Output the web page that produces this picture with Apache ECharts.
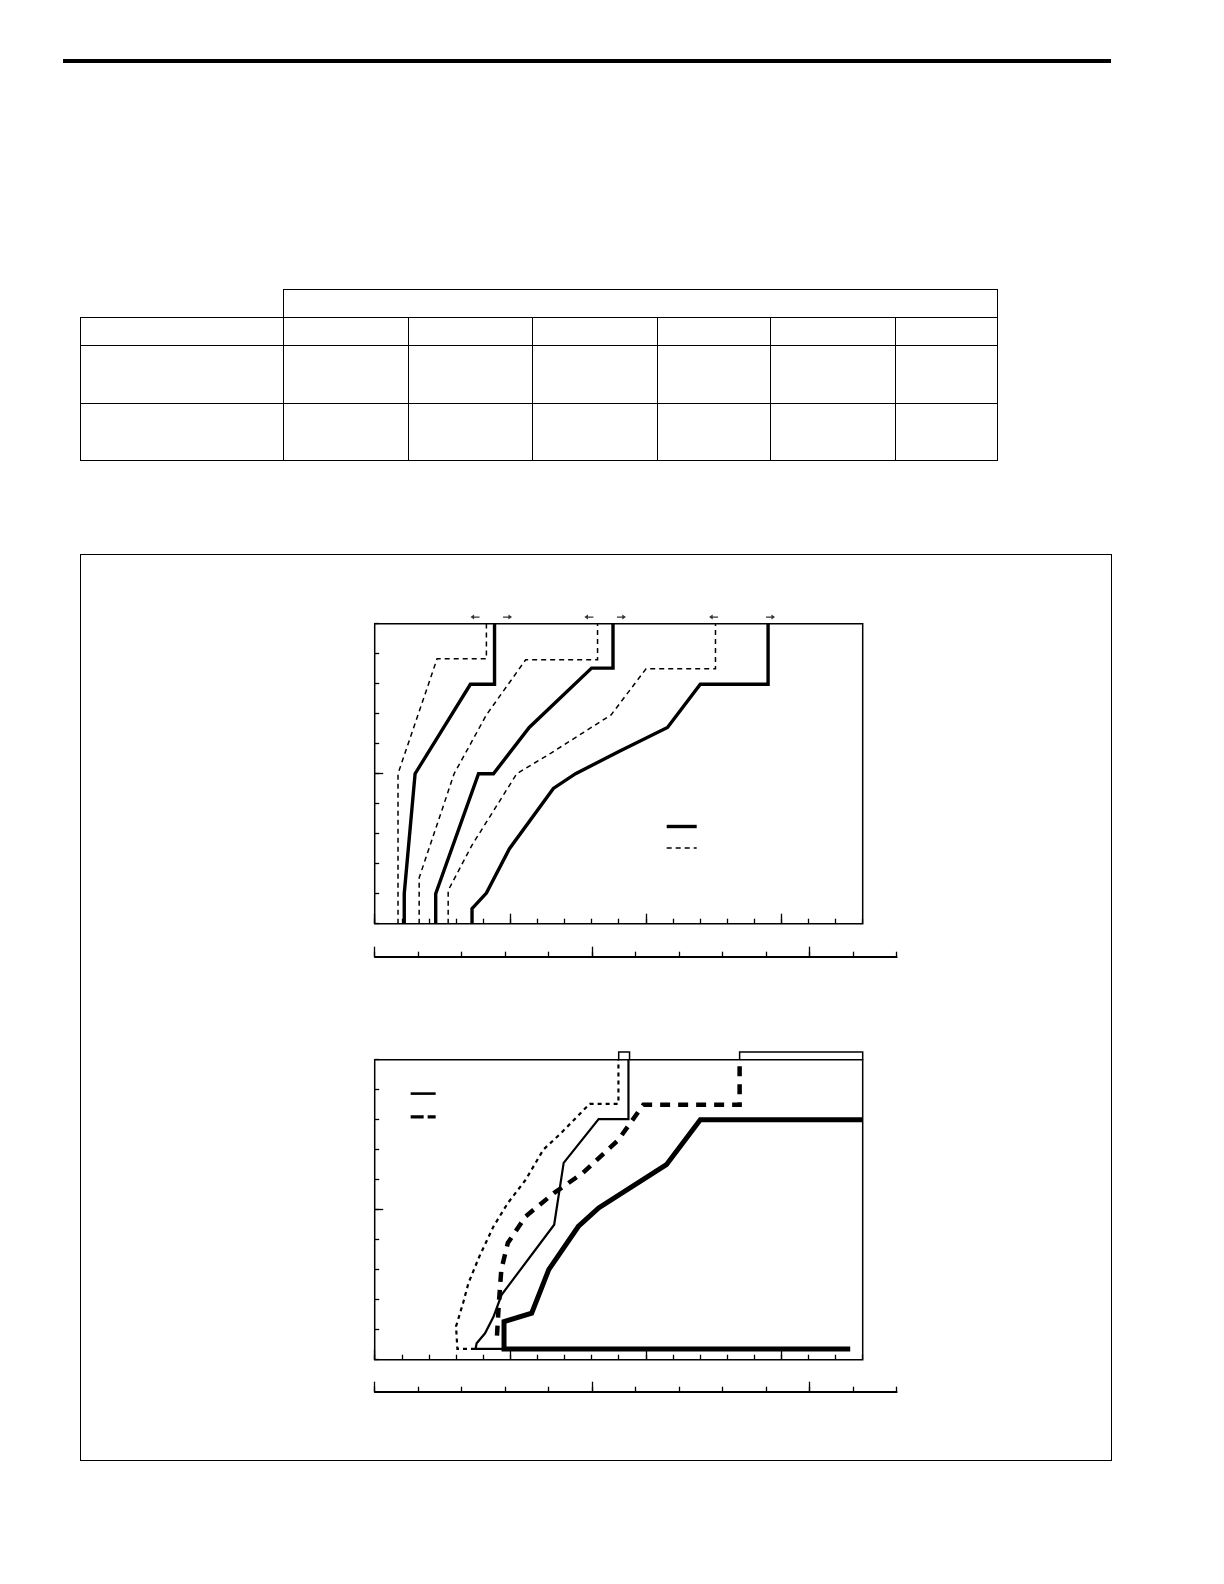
<!DOCTYPE html>
<html>
<head>
<meta charset="utf-8">
<script src="https://cdn.jsdelivr.net/npm/echarts@6/dist/echarts.min.js"></script>
<style>
  html, body { margin: 0; padding: 0; background: #fff; }
  #page { position: relative; width: 1224px; height: 1584px; overflow: hidden; }
  #rule { position: absolute; left: 63px; top: 59px; width: 1048px; height: 3.7px; background: #000; }
  #tbl { position: absolute; left: 80px; top: 289px; border-collapse: collapse; table-layout: fixed; }
  #tbl td { border: 1.5px solid #000; padding: 0; }
  #tbl td.blank { border-top: none; border-left: none; }
  #frame { position: absolute; left: 80px; top: 554px; width: 1032px; height: 907px;
           box-sizing: border-box; border: 1.5px solid #000; }
  #chart-container { position: absolute; left: 0; top: 0; width: 1224px; height: 1584px; }
</style>
</head>
<body>
<div id="page">
  <div id="rule"></div>
  <table id="tbl">
    <colgroup>
      <col style="width:203px"><col style="width:125px"><col style="width:124px">
      <col style="width:125px"><col style="width:113px"><col style="width:125px"><col style="width:102px">
    </colgroup>
    <tr style="height:28px"><td class="blank"></td><td colspan="6"></td></tr>
    <tr style="height:28px"><td></td><td></td><td></td><td></td><td></td><td></td><td></td></tr>
    <tr style="height:58px"><td></td><td></td><td></td><td></td><td></td><td></td><td></td></tr>
    <tr style="height:57px"><td></td><td></td><td></td><td></td><td></td><td></td><td></td></tr>
  </table>
  <div id="frame"></div>
  <div id="chart-container"></div>
</div>
<script>
var dom = document.getElementById("chart-container");
var myChart = echarts.init(dom, null, { renderer: "canvas" });

// axis ranges and ticks
const mainX = [0, 18];
const mainY = [0, 10];
const subX = [0, 12];
const mainXMajor = [0, 5, 10, 15];
const mainYMajor = [5];
const subXMajor = [0, 5, 10];

// upper chart: three solid / dashed profile pairs
const upDash1 = [[0.86, 0], [0.86, 5.0], [2.3, 8.83], [4.12, 8.83], [4.12, 10]];
const upSolid1 = [[1.09, 0], [1.09, 1.0], [1.49, 5.0], [3.53, 7.98], [4.42, 7.98], [4.42, 10]];
const upDash2 = [[1.64, 0], [1.64, 1.53], [2.93, 5.0], [4.12, 6.96], [5.57, 8.8], [8.22, 8.8], [8.22, 10]];
const upSolid2 = [[2.25, 0], [2.25, 1.0], [3.83, 5.0], [4.38, 5.0], [5.7, 6.54], [8.0, 8.52], [8.79, 8.52], [8.79, 10]];
const upDash3 = [[2.71, 0], [2.71, 1.11], [3.59, 2.62], [5.24, 5.0], [6.49, 5.68], [8.72, 6.96],
                 [10.01, 8.5], [12.57, 8.5], [12.57, 10]];
const upSolid3 = [[3.59, 0], [3.59, 0.5], [4.12, 1.02], [4.97, 2.5], [6.59, 4.51], [7.41, 5.0],
                  [8.99, 5.73], [10.8, 6.54], [12.01, 7.98], [14.51, 7.98], [14.51, 10]];
const upArrowsLeft = [[3.7, 10.22], [7.9, 10.22], [12.5, 10.22]];
const upArrowsRight = [[4.9, 10.22], [9.1, 10.22], [14.6, 10.22]];

// lower chart
const loThinDash = [[3.7, 0.36], [3.05, 0.36], [3.0, 1.11], [3.26, 1.89], [3.46, 2.56], [3.86, 3.44],
                    [4.38, 4.44], [4.91, 5.22], [5.57, 6.0], [6.22, 7.0], [6.88, 7.56], [7.93, 8.53],
                    [8.99, 8.53], [8.99, 10]];
const loThinSolid = [[4.71, 0.36], [3.72, 0.36], [3.76, 0.55], [4.07, 0.88], [4.38, 1.43], [4.68, 2.16],
                     [5.01, 2.56], [6.62, 4.5], [6.97, 6.56], [8.26, 8.02], [9.36, 8.02], [9.36, 10]];
const loThickDash = [[4.51, 0.8], [4.58, 1.89], [4.67, 3.0], [4.91, 3.89], [5.57, 4.78], [6.62, 5.56],
                     [7.67, 6.22], [8.99, 7.33], [9.91, 8.5], [13.46, 8.5], [13.46, 10]];
const loThickSolid = [[17.54, 0.36], [4.77, 0.36], [4.77, 1.27], [5.79, 1.55], [6.42, 3.0], [7.51, 4.44],
                      [8.26, 5.06], [10.76, 6.5], [12.01, 8.0], [18, 8.0]];
const loBracket1 = [[9.0, 10], [9.0, 10.26], [9.4, 10.26], [9.4, 10]];
const loBracket2 = [[13.46, 10], [13.46, 10.26], [18, 10.26], [18, 10]];

var tickLine = { color: "#000", width: 1.3 };

function tickAxis(gridIndex, range, len, extra) {
  var ax = {
    type: "value",
    gridIndex: gridIndex,
    min: range[0],
    max: range[1],
    axisLine: { show: false },
    axisLabel: { show: false },
    splitLine: { show: false },
    axisTick: { show: true, inside: true, length: len, lineStyle: tickLine },
  };
  return Object.assign(ax, extra || {});
}

function majorTicks(len, values) {
  return { show: true, inside: true, length: len, lineStyle: tickLine, customValues: values };
}

function line(name, data, width, dash, xi, yi, clip) {
  return {
    type: "line",
    name: name,
    data: data,
    xAxisIndex: xi,
    yAxisIndex: yi,
    symbol: "none",
    silent: true,
    clip: clip !== false,
    itemStyle: { color: "#000" },
    lineStyle: { color: "#000", width: width, type: dash || "solid", cap: "butt", join: "miter" },
  };
}

var arrowPath = "path://M0,5 L4,1.2 L4,4.2 L10,4.2 L10,5.8 L4,5.8 L4,8.8 Z";

function arrows(data, rot) {
  return {
    type: "scatter",
    data: data,
    xAxisIndex: 0,
    yAxisIndex: 0,
    symbol: arrowPath,
    symbolSize: [9, 5],
    symbolRotate: rot,
    clip: false,
    silent: true,
    itemStyle: { color: "#000" },
  };
}

var gridBox = { show: true, borderColor: "#000", borderWidth: 1.5, backgroundColor: "transparent" };
var noMarker = { color: "rgba(0,0,0,0)", borderColor: "rgba(0,0,0,0)", borderWidth: 0 };

var option = {
  animation: false,
  grid: [
    Object.assign({ left: 374.7, top: 623.7, width: 488, height: 300 }, gridBox),
    { left: 374.7, top: 946.7, width: 522, height: 10 },
    Object.assign({ left: 374.7, top: 1059.7, width: 488, height: 300 }, gridBox),
    { left: 374.7, top: 1381.7, width: 522, height: 10 },
  ],
  xAxis: [
    tickAxis(0, mainX, 5, { interval: 1, position: "bottom" }),
    tickAxis(0, mainX, 10, { position: "bottom", axisTick: majorTicks(10, mainXMajor) }),
    tickAxis(1, subX, 5, { interval: 1, position: "bottom", axisLine: { show: true, lineStyle: { color: "#000", width: 1.8 } } }),
    tickAxis(1, subX, 10, { position: "bottom", axisTick: majorTicks(10, subXMajor) }),
    tickAxis(2, mainX, 5, { interval: 1, position: "bottom" }),
    tickAxis(2, mainX, 10, { position: "bottom", axisTick: majorTicks(10, mainXMajor) }),
    tickAxis(3, subX, 5, { interval: 1, position: "bottom", axisLine: { show: true, lineStyle: { color: "#000", width: 1.8 } } }),
    tickAxis(3, subX, 10, { position: "bottom", axisTick: majorTicks(10, subXMajor) }),
  ],
  yAxis: [
    tickAxis(0, mainY, 4.5, { interval: 1, position: "left" }),
    tickAxis(0, mainY, 8.5, { position: "left", axisTick: majorTicks(8.5, mainYMajor) }),
    { type: "value", gridIndex: 1, min: 0, max: 1, show: false },
    tickAxis(2, mainY, 4.5, { interval: 1, position: "left" }),
    tickAxis(2, mainY, 8.5, { position: "left", axisTick: majorTicks(8.5, mainYMajor) }),
    { type: "value", gridIndex: 3, min: 0, max: 1, show: false },
  ],
  legend: [
    {
      orient: "vertical",
      left: 665,
      top: 821.5,
      padding: 0,
      itemWidth: 30,
      itemHeight: 10,
      itemGap: 12.4,
      selectedMode: false,
      itemStyle: noMarker,
      formatter: function () { return ""; },
      data: [
        { name: "upSolid", lineStyle: { width: 3.4, color: "#000" } },
        { name: "upDash", lineStyle: { width: 1.5, color: "#000", type: [5, 4] } },
      ],
    },
    {
      orient: "vertical",
      left: 409,
      top: 1088.6,
      padding: 0,
      itemWidth: 25,
      itemHeight: 10,
      itemGap: 14.2,
      selectedMode: false,
      itemStyle: noMarker,
      formatter: function () { return ""; },
      data: [
        { name: "loSolid", lineStyle: { width: 2.6, color: "#000" } },
        { name: "loDash", lineStyle: { width: 3.3, color: "#000", type: [13, 4] } },
      ],
    },
  ],
  series: [
    line("upDash", upDash1, 1.5, [5, 4], 0, 0),
    line("upSolid", upSolid1, 3.4, null, 0, 0),
    line("upDash", upDash2, 1.5, [5, 4], 0, 0),
    line("upSolid", upSolid2, 3.4, null, 0, 0),
    line("upDash", upDash3, 1.5, [5, 4], 0, 0),
    line("upSolid", upSolid3, 3.4, null, 0, 0),
    arrows(upArrowsLeft, 0),
    arrows(upArrowsRight, 180),
    line("loSolid", loThinSolid, 2.2, null, 4, 3),
    line("loDash", loThickDash, 4.5, [10, 8], 4, 3),
    line("loThinDash", loThinDash, 2.2, [4, 4], 4, 3),
    line("loThickSolid", loThickSolid, 5, null, 4, 3),
    line("loBracket", loBracket1, 1.5, null, 4, 3, false),
    line("loBracket", loBracket2, 1.5, null, 4, 3, false),
  ],
};

if (option && typeof option === "object") {
  myChart.setOption(option);
}

window.addEventListener("resize", myChart.resize);
</script>
</body>
</html>
